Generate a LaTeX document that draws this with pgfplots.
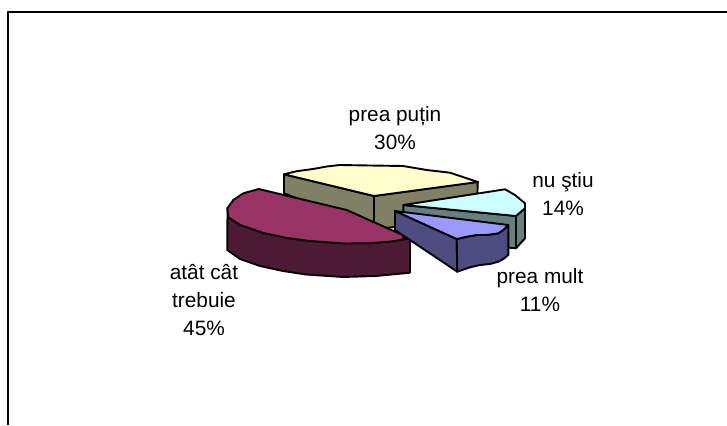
\documentclass[border=0pt]{standalone}
\usepackage{pgfplots}
\pgfplotsset{compat=1.18}
\usepackage{fontspec}
\setmainfont{Liberation Sans}
\definecolor{cy}{HTML}{FFFFCC}
\definecolor{cyd}{HTML}{808066}
\definecolor{cm}{HTML}{993366}
\definecolor{cmd}{HTML}{4D1A33}
\definecolor{cc}{HTML}{CCFFFF}
\definecolor{ccd}{HTML}{668080}
\definecolor{cb}{HTML}{9999FF}
\definecolor{cbd}{HTML}{4D4D80}
\begin{document}
\begin{tikzpicture}[x=1pt,y=1pt]
\begin{axis}[scale only axis,width=727pt,height=425pt,xmin=0,xmax=727,ymin=0,ymax=425,y dir=reverse,ticks=none,axis line style={draw=none},
  every axis plot/.style={line width=1.9pt,draw=black,line join=round,no markers}]
% frame
\addplot[line width=2.3pt] coordinates {(8,425) (8,12.3) (727,12.3)};
% prea putin 30%
\addplot[fill=cyd] coordinates {(284,174.3) (374,196) (374,229) (284,193.3)} --cycle;
\addplot[fill=cyd] coordinates {(374,196) (477.7,181.7) (477,215) (395,227) (374,229)} --cycle;
\addplot[fill=cy] coordinates {(284,174.3) (296.7,171.2) (313,169) (326.7,166.5) (340,165) (370,165.5) (403,166) (426.7,170) (450,172.7) (466.7,178.3) (478,182) (374,196)} --cycle;
% atat cat 45%
\addplot[fill=cmd] coordinates {(227.5,208) (227.3,250) (240,259) (260,266) (283,271) (306,274.5) (343,277) (376,276) (410,272.7) (410,238.3)} --cycle;
\addplot[fill=cm] coordinates {(258.7,189) (346.7,210) (410,238.3) (390,241.7) (370,243.3) (343.3,243.5) (310,241) (286.7,238) (263.3,233) (240,225) (228.3,217.3) (227.3,208.3) (233.3,200) (243.3,193.3)} --cycle;
% nu stiu 14%
\addplot[fill=ccd] coordinates {(403.3,205) (516,216) (516,248.3) (403.3,238)} --cycle;
\addplot[fill=ccd] coordinates {(516,216) (525,206.7) (525,238.3) (516,248.3)} --cycle;
\addplot[fill=cc] coordinates {(403.3,205) (505,189.3) (515,195) (525,203.3) (525,208.3) (516,216)} --cycle;
% prea mult 11%
\addplot[fill=cbd] coordinates {(395,211) (456.7,239) (457.3,271.7) (395,230)} --cycle;
\addplot[fill=cbd] coordinates {(456.7,239) (466.7,236.7) (476.7,235) (486.7,235) (498.3,233.3) (503.3,230) (508.3,225) (508.3,255) (503.3,259) (498.3,261.7) (490,264) (480,265) (470,267.3) (457.3,271.7)} --cycle;
\addplot[fill=cb] coordinates {(395,211) (508.3,225) (503.3,230) (498.3,233.3) (486.7,235) (476.7,235) (466.7,236.7) (456.7,239)} --cycle;
% labels
\node[font=\fontsize{20.8}{23}\selectfont,align=center] at (axis cs:395,128) {prea puțin\\[5pt]30\%};
\node[font=\fontsize{20.8}{23}\selectfont,align=center] at (axis cs:563,194) {nu ştiu\\[5pt]14\%};
\node[font=\fontsize{20.8}{23}\selectfont,align=center] at (axis cs:540,290) {prea mult\\[5pt]11\%};
\node[font=\fontsize{20.8}{23}\selectfont,align=center] at (axis cs:204,300) {atât cât\\[5pt]trebuie\\[5pt]45\%};
\end{axis}
\end{tikzpicture}
\end{document}
